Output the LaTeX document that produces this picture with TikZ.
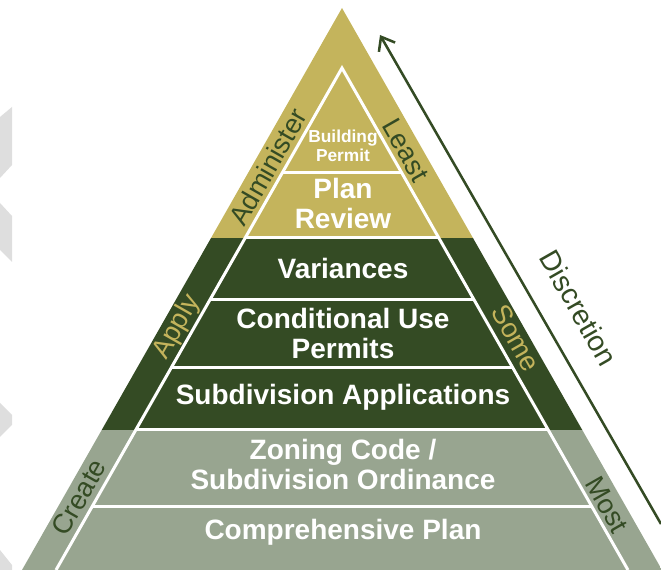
\documentclass[tikz,border=0pt]{standalone}
\usepackage{fontspec}
\setmainfont{Liberation Sans}
\usetikzlibrary{
	calc,
	arrows.meta,
}
\definecolor{pyrgold}{RGB}{196,180,92}
\definecolor{pyrdark}{RGB}{52,75,36}
\definecolor{pyrsage}{RGB}{152,165,144}
\definecolor{chevgray}{RGB}{222,222,222}

\begin{document}
\begin{tikzpicture}[
                    x=0.75pt, y=-0.75pt,
                    tier/.style={text=white, font=\bfseries\fontsize{21}{22.5}\selectfont, align=center, inner sep=0pt},
                    small tier/.style={text=white, font=\bfseries\fontsize{13}{14}\selectfont, align=center, inner sep=0pt},
                    side/.style={font=\fontsize{20.5}{22}\selectfont, inner sep=0pt},
                    divider/.style={white, line width=2.25pt},
                ]
\useasboundingbox (0,0) rectangle (661,570);
\fill[chevgray] (0,117) -- (12,107) -- (12,165) -- (0,178) -- cycle;
\fill[chevgray] (0,203) -- (12,216) -- (12,262) -- (0,250) -- cycle;
\fill[chevgray] (0,403) -- (12,415) -- (12,425) -- (0,437) -- cycle;
\fill[chevgray] (0,550) -- (12,565) -- (12,570) -- (0,570) -- cycle;
\coordinate (apex) at (342,8);
\coordinate (baseL) at (22,570);
\coordinate (baseR) at (662,570);
\coordinate (inApex) at (342,68);
\coordinate (inL) at (56,570);
\coordinate (inR) at (628,570);
\begin{scope}
    \clip (apex) -- (baseL) -- (baseR) -- cycle;
    \fill[pyrgold] (0,0) rectangle (670,238);
    \fill[pyrdark] (0,238) rectangle (670,430);
    \fill[pyrsage] (0,430) rectangle (670,570);
\end{scope}
\begin{scope}
    \clip (inApex) -- (inL) -- (inR) -- cycle;
    \foreach \ylev in {173,238,300,368,430,506}
        \draw[divider] (0,\ylev) -- (670,\ylev);
\end{scope}
\draw[divider, line join=miter] (inL) -- (inApex) -- (inR);
\node[small tier] (permit) at (343,146) {Building\\Permit};
\node[tier] (review) at (343,203) {Plan\\Review};
\node[tier] (variances) at (343,268) {Variances};
\node[tier] (conduse) at (343,333) {Conditional Use\\Permits};
\node[tier] (subdiv) at (343,397) {Subdivision Applications};
\node[tier] (zoning) at (343,464) {Zoning Code /\\Subdivision Ordinance};
\node[tier] (compplan) at (343,532) {Comprehensive Plan};
\node[side, text=pyrdark, rotate=60.3] (administer) at (268,167) {Administer};
\node[side, text=pyrdark, rotate=-60.3] (least) at (406,150) {Least};
\node[side, text=pyrgold, rotate=60.3] (apply) at (177,327) {Apply};
\node[side, text=pyrgold, rotate=-60.3] (some) at (516,338) {Some};
\node[side, text=pyrdark, rotate=60.3] (create) at (79,497) {Create};
\node[side, text=pyrdark, rotate=-60.3] (most) at (607,505) {Most};
\node[side, text=pyrdark, rotate=-60.3, font=\fontsize{21.5}{23}\selectfont] (discretion) at (579,308) {Discretion};
\coordinate (discTail) at (661,524);
\coordinate (discHead) at (380,35);
\draw[pyrdark, line width=1.9pt, -{Straight Barb[length=9pt, width=14pt]}] (discTail) -- (discHead);
\end{tikzpicture}
\end{document}
